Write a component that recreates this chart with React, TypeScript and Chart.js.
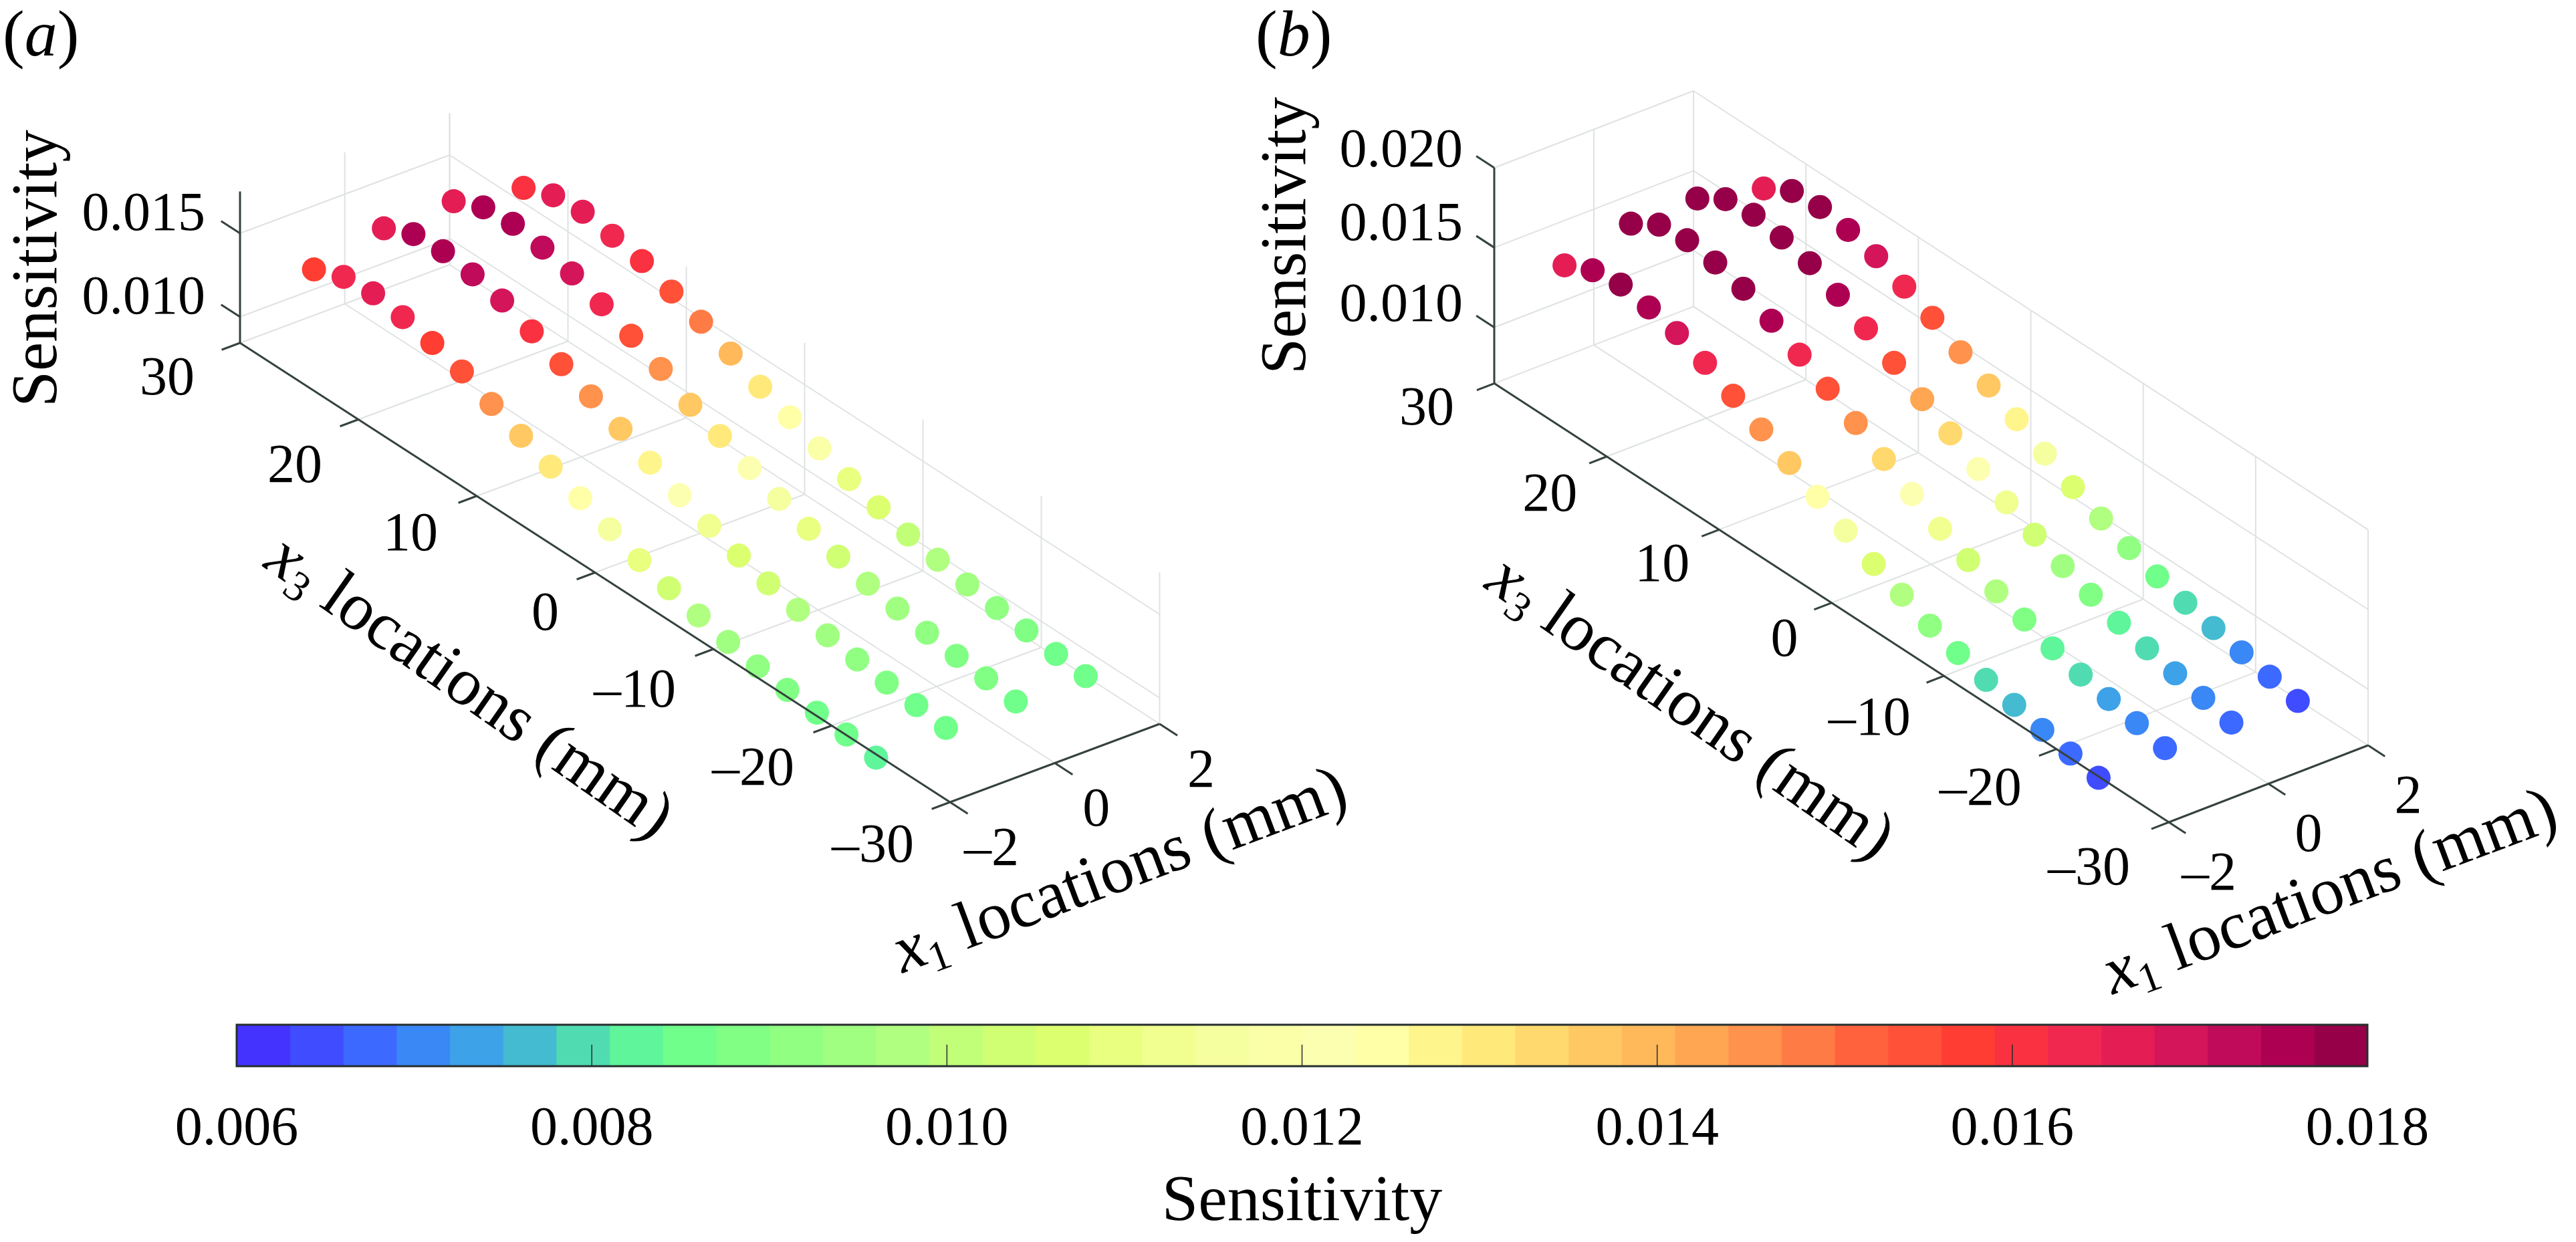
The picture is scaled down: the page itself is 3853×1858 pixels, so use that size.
import { useEffect, useRef } from "react"
import { Chart, registerables } from "chart.js"

Chart.register(...registerables)

const SERIF = '"Liberation Serif", "Times New Roman", serif'

// measurement grid of both panels
const x1Rows = [-2, -2 / 3, 2 / 3, 2]
const x3Locations = [
  23.75, 21.25, 18.75, 16.25, 13.75, 11.25, 8.75, 6.25, 3.75, 1.25,
  -1.25, -3.75, -6.25, -8.75, -11.25, -13.75, -16.25, -18.75, -21.25, -23.75,
]

const x1Ticks = [-2, 0, 2]
const x3Ticks = [30, 20, 10, 0, -10, -20, -30]
const zTicksA = [0.01, 0.015]
const zTicksB = [0.01, 0.015, 0.02]
const barTicks = [0.006, 0.008, 0.01, 0.012, 0.014, 0.016, 0.018]

// panel (a), one list per x1 row
const sensA1 = [0.0157, 0.0164, 0.01656, 0.01628, 0.01588, 0.01532, 0.01452, 0.01376, 0.01306, 0.01232, 0.0116, 0.0109, 0.01036, 0.00988, 0.00944, 0.00912, 0.00886, 0.00864, 0.00848, 0.00824]
const sensA2 = [0.0166, 0.0174, 0.01752, 0.01728, 0.01686, 0.01616, 0.01534, 0.01456, 0.01376, 0.01288, 0.01208, 0.01139, 0.01076, 0.01024, 0.0098, 0.00942, 0.00912, 0.00888, 0.00868, 0.00846]
const sensA3 = [0.01666, 0.01744, 0.0176, 0.01732, 0.01692, 0.01622, 0.01548, 0.01464, 0.01364, 0.01292, 0.01214, 0.01144, 0.0108, 0.01028, 0.0098, 0.00946, 0.00916, 0.00892, 0.00872, 0.00848]
const sensA4 = [0.0159, 0.0166, 0.01676, 0.01647, 0.0161, 0.01542, 0.01476, 0.014, 0.01316, 0.01248, 0.01176, 0.01107, 0.01052, 0.01004, 0.00968, 0.00934, 0.00908, 0.00888, 0.00862, 0.00844]

// panel (b)
const sensB1 = [0.01675, 0.01759, 0.01784, 0.01755, 0.01709, 0.01637, 0.01545, 0.01449, 0.01353, 0.01256, 0.01158, 0.01064, 0.00986, 0.00907, 0.0085, 0.00796, 0.00754, 0.00712, 0.00678, 0.00641]
const sensB2 = [0.01776, 0.01884, 0.01901, 0.01876, 0.01826, 0.0174, 0.01642, 0.01543, 0.01443, 0.01332, 0.01227, 0.01124, 0.01043, 0.00961, 0.00899, 0.00833, 0.00783, 0.00745, 0.00708, 0.00666]
const sensB3 = [0.01773, 0.01883, 0.019, 0.01872, 0.01826, 0.01742, 0.01646, 0.01545, 0.01432, 0.01332, 0.01223, 0.01129, 0.01041, 0.00959, 0.00894, 0.00833, 0.00787, 0.00745, 0.00706, 0.00666]
const sensB4 = [0.01675, 0.01774, 0.01788, 0.01759, 0.01709, 0.01633, 0.01552, 0.01451, 0.01357, 0.0126, 0.01159, 0.01064, 0.00982, 0.00911, 0.00848, 0.00798, 0.00754, 0.00716, 0.00678, 0.00641]

// discrete colormap of the colorbar
const barColors = [
  "#4433ff", "#3f4cff", "#3c69ff", "#3a87f6", "#3da2e8", "#44bbd0", "#50dcb0", "#5ff59a",
  "#70ff8a", "#80ff84", "#90ff82", "#a0ff80", "#b0ff80", "#c2ff78", "#d0ff74", "#dcff70",
  "#e8ff80", "#f0ff90", "#f6ffa0", "#faffa8", "#fdffb0", "#ffffa8", "#fff58d", "#ffe97a",
  "#ffd96d", "#ffc863", "#ffb95a", "#ffa653", "#ff924c", "#ff7b45", "#ff623d", "#ff5038",
  "#ff3d32", "#fa3140", "#f02850", "#e41e55", "#d41559", "#c00a5a", "#ae0053", "#960048",
]
const BAR_MIN = 0.006
const BAR_MAX = 0.018
const BAR_STEP = (BAR_MAX - BAR_MIN) / barColors.length

const colorFor = (s: number) => {
  const i = Math.floor((s - BAR_MIN) / BAR_STEP)
  return barColors[Math.max(0, Math.min(barColors.length - 1, i))]
}

type Run = { t: string; italic?: boolean; size?: number; dy?: number }

// text made of several runs, along a rotated baseline
function drawRuns(ctx: any, runs: Run[], x: number, y: number, angle: number, size: number) {
  ctx.save()
  ctx.translate(x, y)
  ctx.rotate((angle * Math.PI) / 180)
  ctx.textAlign = "left"
  ctx.textBaseline = "alphabetic"
  ctx.fillStyle = "#000"
  let cx = 0
  for (const r of runs) {
    ctx.font = `${r.italic ? "italic " : ""}${r.size ?? size}px ${SERIF}`
    ctx.fillText(r.t, cx, r.dy ?? 0)
    cx += ctx.measureText(r.t).width
  }
  ctx.restore()
}

const tickText = (v: number) => (v < 0 ? `–${Math.abs(v)}` : `${v}`)

const panelPlugin = {
  id: "panel3d",
  beforeDatasetsDraw(chart: any) {
    const p = chart.options.plugins.panel3d
    const { ctx } = chart
    const pt = pointer(chart, p)
    const line = (a: number[], b: number[]) => {
      ctx.beginPath()
      ctx.moveTo(...pt(a[0], a[1], a[2]))
      ctx.lineTo(...pt(b[0], b[1], b[2]))
      ctx.stroke()
    }
    ctx.save()
    ctx.strokeStyle = "#dfe2e2"
    ctx.lineWidth = 2
    for (const x3 of x3Ticks) {
      line([-2, x3, p.zBase], [2, x3, p.zBase])
      line([2, x3, p.zBase], [2, x3, p.zTop])
    }
    for (const x1 of x1Ticks) {
      line([x1, 30, p.zBase], [x1, -30, p.zBase])
      line([x1, 30, p.zBase], [x1, 30, p.zTop])
    }
    for (const z of p.zTicks) {
      line([-2, 30, z], [2, 30, z])
      line([2, 30, z], [2, -30, z])
    }
    ctx.restore()
  },
  afterDatasetsDraw(chart: any) {
    const p = chart.options.plugins.panel3d
    const { ctx } = chart
    const pt = pointer(chart, p)
    const line = (a: number[], b: number[]) => {
      ctx.beginPath()
      ctx.moveTo(...pt(a[0], a[1], a[2]))
      ctx.lineTo(...pt(b[0], b[1], b[2]))
      ctx.stroke()
    }
    ctx.save()
    ctx.strokeStyle = "#35423f"
    ctx.lineWidth = 3
    line([-2, 30, p.zBase], [-2, -30, p.zBase])
    line([-2, -30, p.zBase], [2, -30, p.zBase])
    line([-2, 30, p.zBase], [-2, 30, p.zTop])
    for (const x3 of x3Ticks) line([-2, x3, p.zBase], [-2.35, x3, p.zBase])
    for (const x1 of x1Ticks) line([x1, -30, p.zBase], [x1, -31.5, p.zBase])
    for (const z of p.zTicks) line([-2, 30, z], [-2, 31.6, z])

    ctx.fillStyle = "#000"
    ctx.font = `82px ${SERIF}`
    ctx.textBaseline = "middle"
    ctx.textAlign = "right"
    p.zTicks.forEach((z: number, i: number) => {
      const [x, y] = pt(-2, 30, z)
      ctx.fillText(z.toFixed(3), x + p.zLabelX, y + p.zLabelY[i])
    })
    x3Ticks.forEach((v, i) => {
      const [x, y] = pt(-2, v, p.zBase)
      ctx.fillText(tickText(v), x + p.x3Label[i][0], y + p.x3Label[i][1])
    })
    ctx.textAlign = "center"
    for (const v of x1Ticks) {
      const [x, y] = pt(v, -30, p.zBase)
      ctx.fillText(tickText(v), x + p.x1Label[0], y + p.x1Label[1])
    }
    ctx.restore()

    drawRuns(ctx, [{ t: "(" }, { t: p.letter, italic: true }, { t: ")" }], p.letterAt[0], p.letterAt[1], 0, 98)
    drawRuns(ctx, [{ t: "Sensitivity" }], p.zTitle[0], p.zTitle[1], -90, 97)
    drawRuns(
      ctx,
      [{ t: "x", italic: true }, { t: "3", size: 64, dy: 16 }, { t: " locations (mm)" }],
      p.x3Title[0], p.x3Title[1], p.x3Title[2], 101,
    )
    drawRuns(
      ctx,
      [{ t: "x", italic: true }, { t: "1", size: 64, dy: 16 }, { t: " locations (mm)" }],
      p.x1Title[0], p.x1Title[1], p.x1Title[2], 101,
    )
  },
}

// (x1, x3, sensitivity) to the flat coordinates of the panel
const project = (p: any, x1: number, x3: number, z: number) => ({
  x: p.ox + ((x1 + 2) / 4) * p.wx + ((30 - x3) / 60) * p.dx,
  y: p.oy - ((x1 + 2) / 4) * p.wy + ((30 - x3) / 60) * p.dy - (z - p.zBase) * p.zScale,
})

const pointer = (chart: any, p: any) => (x1: number, x3: number, z: number): [number, number] => {
  const q = project(p, x1, x3, z)
  return [chart.scales.x.getPixelForValue(q.x), chart.scales.y.getPixelForValue(q.y)]
}

const panelA = {
  letter: "a", letterAt: [4, 83], zTitle: [84, 609],
  width: 2040, height: 1500,
  ox: 359, oy: 513, wx: 313.5, wy: 117, dx: 1062, dy: 687,
  zBase: 0.00844, zTop: 0.0175, zScale: 25000, zTicks: zTicksA,
  zLabelX: -52, zLabelY: [-27, -27],
  x3Label: [[-68, 55], [-54, 71.5], [-58, 59], [-54, 63.5], [-56, 64], [-56, 66.5], [-54, 67]],
  x1Label: [62, 72],
  x3Title: [392, 847, 35], x1Title: [1350, 1456, -20.5],
}

const panelB = {
  letter: "b", letterAt: [18, 83], zTitle: [92, 560],
  width: 1993, height: 1530,
  ox: 375, oy: 573.6, wx: 298, wy: 115, dx: 1009, dy: 656.4,
  zBase: 0.00649, zTop: 0.02, zScale: 23880, zTicks: zTicksB,
  zLabelX: -47, zLabelY: [-31, -33, -24],
  x3Label: [[-60, 40], [-44, 59.5], [-44, 55], [-50, 58], [-50, 66], [-52, 62], [-58, 71]],
  x1Label: [60, 79],
  x3Title: [358, 878, 35], x1Title: [1300, 1488, -20.5],
}

function panelConfig(p: any, rows: number[][]) {
  return {
    type: "scatter",
    data: {
      datasets: rows.map((row, r) => ({
        data: row.map((s, i) => ({ ...project(p, x1Rows[r], x3Locations[i], s), s })),
        pointRadius: 18,
        pointBorderWidth: 0,
        pointBackgroundColor: (c: any) => colorFor(c.raw.s),
      })),
    },
    options: {
      responsive: false,
      animation: false,
      events: [],
      layout: { padding: 0, autoPadding: false },
      scales: {
        x: { type: "linear", display: false, min: 0, max: p.width },
        y: { type: "linear", display: false, min: 0, max: p.height, reverse: true },
      },
      plugins: { legend: { display: false }, tooltip: { enabled: false }, panel3d: p },
    },
    plugins: [panelPlugin],
  }
}

const barOutline = {
  id: "barOutline",
  afterDatasetsDraw(chart: any) {
    const { ctx, chartArea: a } = chart
    ctx.save()
    ctx.strokeStyle = "#262e2e"
    ctx.lineWidth = 1.5
    for (const v of barTicks.slice(1, -1)) {
      const x = chart.scales.x.getPixelForValue(v)
      ctx.beginPath()
      ctx.moveTo(x, a.bottom)
      ctx.lineTo(x, a.top + (a.bottom - a.top) * 0.48)
      ctx.stroke()
    }
    ctx.lineWidth = 3
    ctx.strokeRect(a.left, a.top, a.right - a.left, a.bottom - a.top)
    ctx.restore()
  },
}

function colorbarConfig() {
  return {
    type: "bar",
    data: {
      labels: ["Sensitivity"],
      datasets: barColors.map((c, i) => ({
        data: [[BAR_MIN + i * BAR_STEP, BAR_MIN + (i + 1) * BAR_STEP]],
        backgroundColor: c,
        borderWidth: 0,
        barPercentage: 1,
        categoryPercentage: 1,
      })),
    },
    options: {
      indexAxis: "y",
      responsive: false,
      animation: false,
      events: [],
      layout: { padding: { left: 354, right: 312, top: 33, bottom: 0 } },
      scales: {
        y: { display: false, stacked: true },
        x: {
          type: "linear",
          min: BAR_MIN,
          max: BAR_MAX,
          afterBuildTicks: (s: any) => {
            s.ticks = barTicks.map((value) => ({ value }))
          },
          afterFit: (s: any) => {
            s.height = 263
          },
          grid: { display: false, drawTicks: false },
          border: { display: false },
          ticks: {
            color: "#000",
            padding: 46,
            maxRotation: 0,
            autoSkip: false,
            font: { family: SERIF, size: 82 },
            callback: (v: any) => Number(v).toFixed(3),
          },
          title: {
            display: true,
            text: "Sensitivity",
            color: "#000",
            font: { family: SERIF, size: 98 },
            padding: { top: 40, bottom: 0 },
          },
        },
      },
      plugins: { legend: { display: false }, tooltip: { enabled: false } },
    },
    plugins: [barOutline],
  }
}

export default function App() {
  const aRef = useRef<HTMLCanvasElement>(null)
  const bRef = useRef<HTMLCanvasElement>(null)
  const barRef = useRef<HTMLCanvasElement>(null)

  useEffect(() => {
    document.body.style.margin = "0"
    const charts = [
      new Chart(aRef.current as any, panelConfig(panelA, [sensA1, sensA2, sensA3, sensA4]) as any),
      new Chart(bRef.current as any, panelConfig(panelB, [sensB1, sensB2, sensB3, sensB4]) as any),
      new Chart(barRef.current as any, colorbarConfig() as any),
    ]
    return () => charts.forEach((c) => c.destroy())
  }, [])

  return (
    <div style={{ position: "relative", width: 3853, height: 1858, background: "#fff", overflow: "hidden" }}>
      <canvas ref={aRef} width={panelA.width} height={panelA.height} style={{ position: "absolute", left: 0, top: 0 }} />
      <canvas ref={bRef} width={panelB.width} height={panelB.height} style={{ position: "absolute", left: 1860, top: 0 }} />
      <canvas ref={barRef} width={3853} height={358} style={{ position: "absolute", left: 0, top: 1500 }} />
    </div>
  )
}
